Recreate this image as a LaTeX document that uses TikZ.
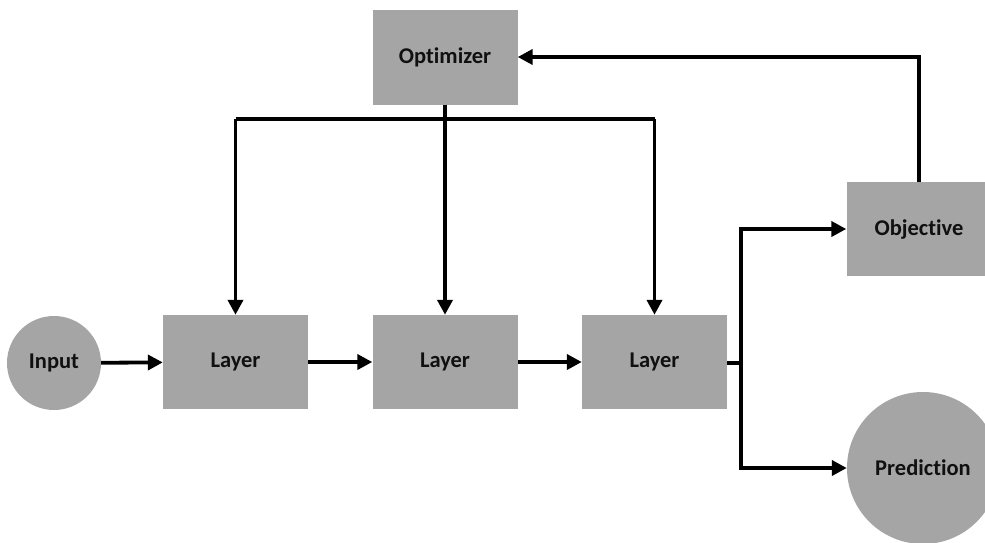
\documentclass[tikz,border=0pt]{standalone}
\usepackage{fontspec}
\setmainfont[Ligatures=NoCommon]{Carlito}
\usetikzlibrary{arrows.meta,calc}
\definecolor{boxgray}{HTML}{A5A5A5}
\definecolor{ink}{HTML}{101010}
\tikzset{
  block/.style={rectangle, fill=boxgray, minimum width=145pt, minimum height=94pt,
    inner sep=0pt, font=\fontsize{22.5}{26}\selectfont\bfseries, text=ink},
  disc/.style={circle, fill=boxgray, inner sep=0pt,
    font=\fontsize{22.5}{26}\selectfont\bfseries, text=ink},
  link/.style={line width=3.8pt, draw=black, -{Triangle[length=15pt,width=15pt]}},
  wire/.style={line width=3.8pt, draw=black}
}
\begin{document}
\begin{tikzpicture}[x=1pt,y=-1pt]
  \useasboundingbox (0,0) rectangle (985,542);
  \fill[white] (0,0) rectangle (985,542);

  % nodes
  \node[disc, minimum size=94pt] (in) at (54,363) {Input};
  \node[block] (l1) at (235.5,362) {Layer};
  \node[block] (l2) at (445,362) {Layer};
  \node[block] (l3) at (654.5,362) {Layer};
  \node[block, minimum height=95pt] (opt) at (445,57) {Optimizer};
  \node[block] (obj) at (919,229) {Objective};
  \node[disc, minimum size=152pt] (pred) at (923,468) {Prediction};

  \coordinate (bus) at (445,119);
  \coordinate (split) at (741,363);

  % forward path
  \draw[link] (in) -- (l1);
  \draw[link] (l1) -- (l2);
  \draw[link] (l2) -- (l3);

  % optimizer updates to each layer
  \draw[wire] (l1 |- bus) -- (l3 |- bus);
  \draw[link] (l1 |- bus) -- (l1.north);
  \draw[link] (opt.south) -- (l2.north);
  \draw[link] (l3 |- bus) -- (l3.north);

  % outputs
  \draw[wire] (l3.east |- split) -- (split);
  \draw[link] (split) |- (obj.west);
  \draw[link] (split) |- (pred.west);

  % feedback from objective
  \draw[link] (obj.north) |- (opt.east);
\end{tikzpicture}
\end{document}
